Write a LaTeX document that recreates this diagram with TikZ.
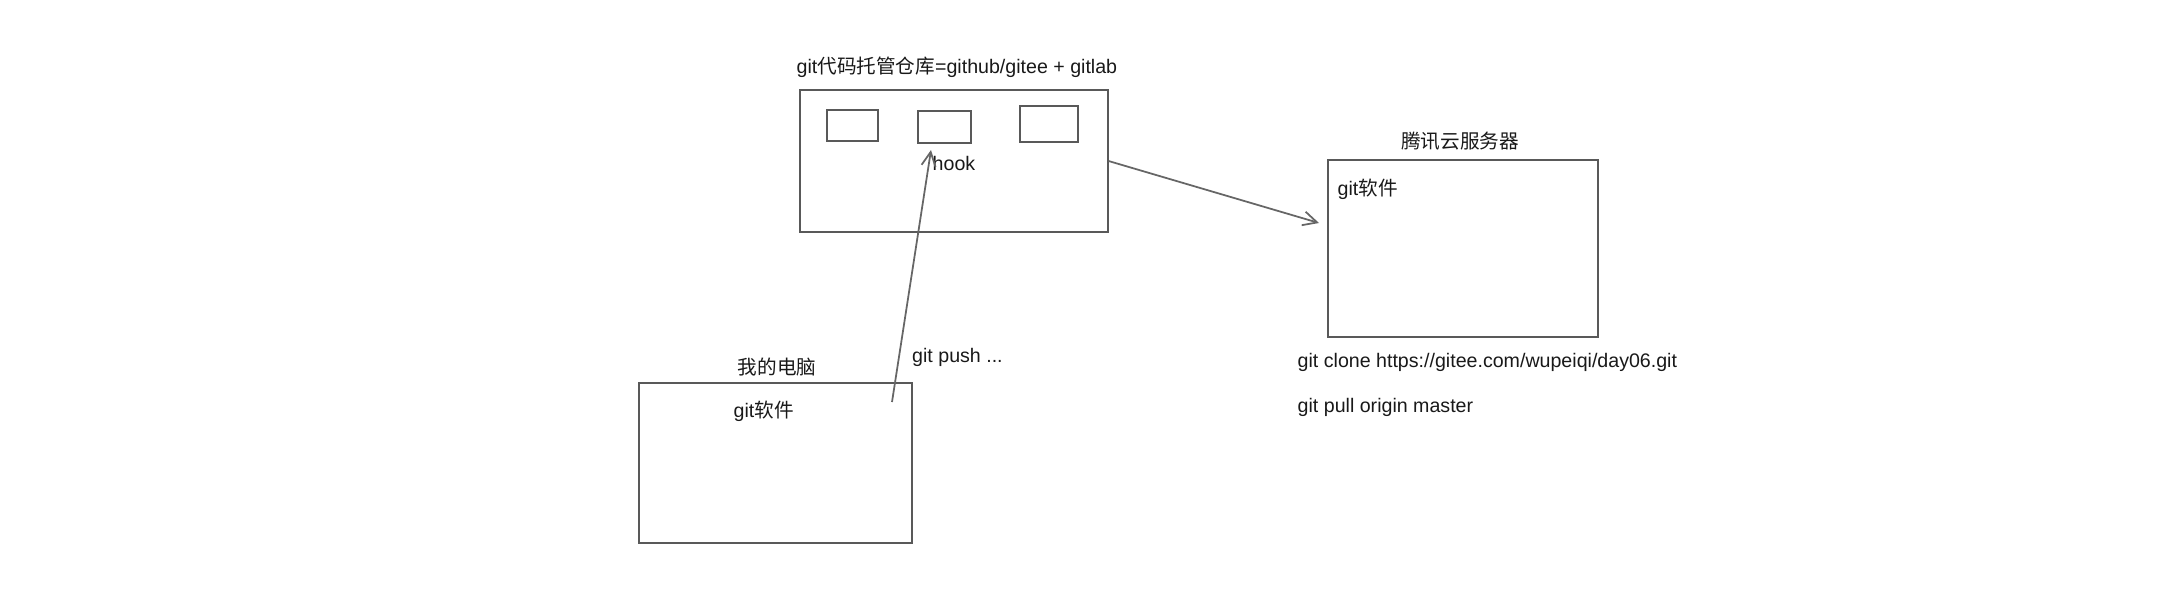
\documentclass[tikz,border=0pt]{standalone}
\usepackage{fontspec}
\setmainfont{Liberation Sans}
\newfontfamily\cjk{Noto Sans CJK SC}
\usetikzlibrary{arrows.meta}
\begin{document}
\begin{tikzpicture}
            \tikzstyle{box}=[draw=black!65,line width=0.3pt,inner sep=0pt]
            \tikzstyle{label}=[inner sep=0pt,text=black!90,font=\fontsize{5.58}{6}\selectfont]
            \tikzstyle{arrow}=[draw=black!60,line width=0.5pt,-{Straight Barb[length=4pt,width=4pt]}]
            \useasboundingbox (0,0) rectangle (21.82,5.88);
            % code hosting
            \node[box,minimum width=3.08cm,minimum height=1.42cm] (repo) at (9.54,4.27) {};
            \node[box,minimum width=0.51cm,minimum height=0.31cm] (hook_a) at (8.525,4.625) {};
            \node[box,minimum width=0.53cm,minimum height=0.32cm] (hook_b) at (9.445,4.61) {};
            \node[box,minimum width=0.58cm,minimum height=0.36cm] (hook_c) at (10.49,4.64) {};
            \node[label,anchor=west] (repo_title) at (7.96,5.21) {git{\cjk 代码托管仓库}=github/gitee + gitlab};
            \node[label] (hook_label) at (9.54,4.25) {hook};
            % server
            \node[box,minimum width=2.70cm,minimum height=1.77cm] (server) at (14.63,3.395) {};
            \node[label] (server_title) at (14.60,4.47) {\cjk 腾讯云服务器};
            \node[label,anchor=west] (server_git) at (13.37,3.99) {git{\cjk 软件}};
            \node[label,anchor=west] (clone_label) at (12.97,2.26) {git clone https://gitee.com/wupeiqi/day06.git};
            \node[label,anchor=west] (pull_label) at (12.97,1.81) {git pull origin master};
            % my computer
            \node[box,minimum width=2.73cm,minimum height=1.60cm] (pc) at (7.755,1.25) {};
            \node[label] (pc_title) at (7.77,2.21) {\cjk 我的电脑};
            \node[label,anchor=west] (pc_git) at (7.33,1.77) {git{\cjk 软件}};
            \node[label,anchor=west] (push_label) at (9.115,2.31) {git push ...};
            % arrows
            \coordinate (push_start) at (8.92,1.86);
            \coordinate (push_end) at (9.31,4.38);
            \coordinate (deploy_end) at (13.19,3.65);
            \draw[arrow] (push_start) -- (push_end);
            \draw[arrow] (repo.east) -- (deploy_end);
        \end{tikzpicture}
\end{document}
